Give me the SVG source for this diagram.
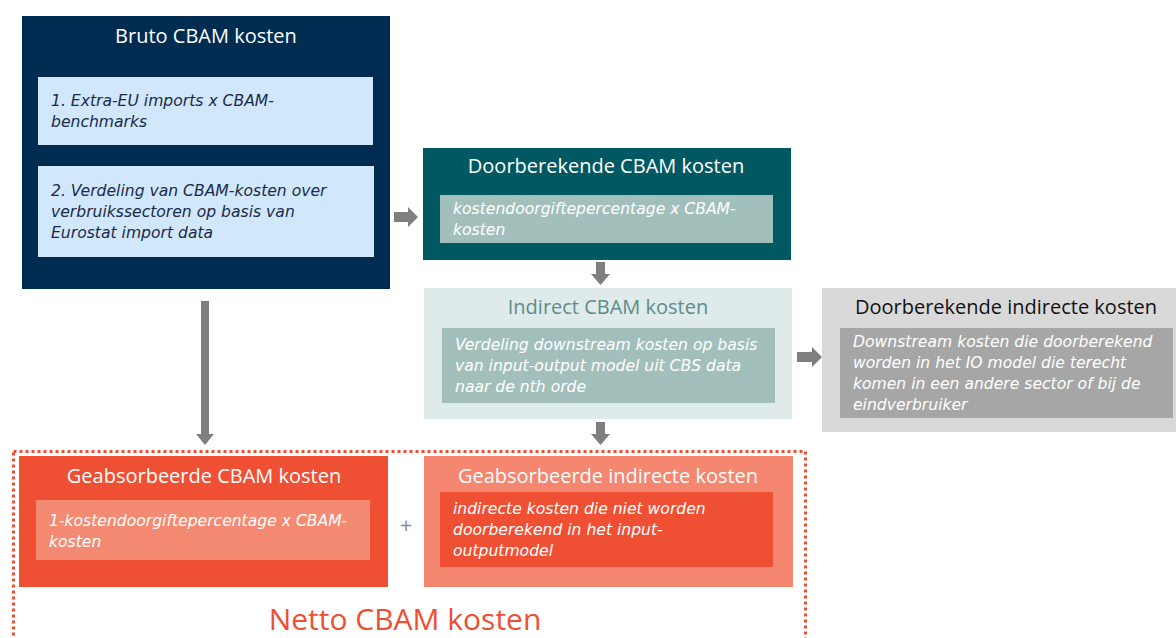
<svg xmlns="http://www.w3.org/2000/svg" width="1176" height="638" viewBox="0 0 1176 638">
<style>
.t{font-family:"Open Sans","DejaVu Sans",sans-serif;font-size:20px;text-anchor:middle}
.b{font-family:"DejaVu Sans","Open Sans",sans-serif;font-size:15.6px;font-style:italic}
.w{fill:#ffffff}
.ar{fill:#7f7f7f}
</style>
<rect width="1176" height="638" fill="#ffffff"/>
<g id="bruto">
<rect x="22" y="16" width="368" height="273" fill="#012c52"/>
<text class="t w" x="206" y="43">Bruto CBAM kosten</text>
<rect x="38" y="77" width="335" height="68" fill="#d1e7fb"/>
<text class="b" fill="#1a2b4a" x="51" y="106">1. Extra-EU imports x CBAM-</text>
<text class="b" fill="#1a2b4a" x="51" y="127">benchmarks</text>
<rect x="38" y="166" width="336" height="91" fill="#d1e7fb"/>
<text class="b" fill="#1a2b4a" x="51" y="196">2. Verdeling van CBAM-kosten over</text>
<text class="b" fill="#1a2b4a" x="51" y="217">verbruikssectoren op basis van</text>
<text class="b" fill="#1a2b4a" x="51" y="238">Eurostat import data</text>
</g>
<g id="doorberekend">
<rect x="423" y="148" width="368" height="112" fill="#005962"/>
<text class="t w" x="606" y="173">Doorberekende CBAM kosten</text>
<rect x="440" y="195" width="333" height="48" fill="#a3bfbc"/>
<text class="b w" x="453" y="214">kostendoorgiftepercentage x CBAM-</text>
<text class="b w" x="453" y="235">kosten</text>
</g>
<g id="indirect">
<rect x="424" y="288" width="368" height="131" fill="#deebea"/>
<text class="t" fill="#5e8c89" x="608" y="314">Indirect CBAM kosten</text>
<rect x="442" y="328" width="333" height="75" fill="#a3bfbc"/>
<text class="b w" x="455" y="350">Verdeling downstream kosten op basis</text>
<text class="b w" x="455" y="371">van input-output model uit CBS data</text>
<text class="b w" x="455" y="392">naar de nth orde</text>
</g>
<g id="doorberekend-indirect">
<rect x="822" y="288" width="354" height="144" fill="#d9d9d9"/>
<text class="t" fill="#111111" x="1006" y="314">Doorberekende indirecte kosten</text>
<rect x="840" y="328" width="333" height="90" fill="#a6a6a6"/>
<text class="b w" x="853" y="347">Downstream kosten die doorberekend</text>
<text class="b w" x="853" y="368">worden in het IO model die terecht</text>
<text class="b w" x="853" y="389">komen in een andere sector of bij de</text>
<text class="b w" x="853" y="410">eindverbruiker</text>
</g>
<g id="netto">
<rect x="13.5" y="451.5" width="792" height="200" fill="none" stroke="#f04e31" stroke-width="3" stroke-dasharray="3 3"/>
<text x="405" y="630" font-family="Open Sans, DejaVu Sans, sans-serif" font-size="30" fill="#f04e31" text-anchor="middle">Netto CBAM kosten</text>
</g>
<g id="geabsorbeerd-cbam">
<rect x="19" y="456" width="369" height="131" fill="#ef5033"/>
<text class="t w" x="204" y="483">Geabsorbeerde CBAM kosten</text>
<rect x="36" y="500" width="334" height="60" fill="#f58a72"/>
<text class="b w" x="49" y="526">1-kostendoorgiftepercentage x CBAM-</text>
<text class="b w" x="49" y="547">kosten</text>
</g>
<g id="plus">
<text x="406" y="533" font-family="Open Sans, DejaVu Sans, sans-serif" font-size="22" fill="#8c8c8c" text-anchor="middle">+</text>
</g>
<g id="geabsorbeerd-indirect">
<rect x="424" y="456" width="369" height="131" fill="#f58670"/>
<text class="t w" x="608" y="483">Geabsorbeerde indirecte kosten</text>
<rect x="440" y="492" width="333" height="75" fill="#ef5033"/>
<text class="b w" x="453" y="514">indirecte kosten die niet worden</text>
<text class="b w" x="453" y="535">doorberekend in het input-</text>
<text class="b w" x="453" y="556">outputmodel</text>
</g>
<g id="connectors">
<polygon class="ar" points="394,212 408,212 408,207 418,217 408,227 408,222 394,222"/>
<polygon class="ar" points="596,262 605,262 605,274 610,274 600.5,285 591,274 596,274"/>
<polygon class="ar" points="797,352 812,352 812,347 822,357 812,367 812,362 797,362"/>
<polygon class="ar" points="201,301 209,301 209,434 214,434 205,445 196,434 201,434"/>
<polygon class="ar" points="596,422 605,422 605,434 610,434 600.5,445 591,434 596,434"/>
</g>
</svg>
